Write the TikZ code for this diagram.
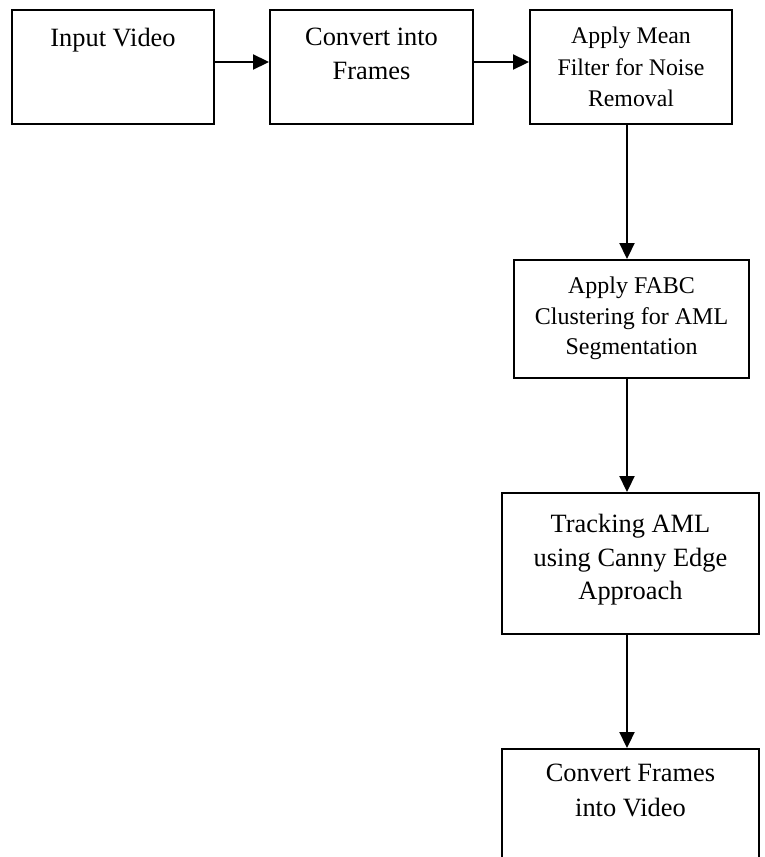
\documentclass[tikz,border=0pt]{standalone}
\usepackage{fontspec}
\setmainfont{Liberation Serif}
\usetikzlibrary{arrows.meta}
\begin{document}
\begin{tikzpicture}[x=0.5pt,y=-0.5pt,
  box/.style={draw, line width=0.95pt, inner sep=0pt, rectangle},
  lab/.style={anchor=north, align=center, inner sep=0pt},
  arr/.style={line width=0.95pt, -{Triangle[length=8pt,width=7.5pt]}},
  fbig/.style={font=\fontsize{13.2}{17}\selectfont},
]
\useasboundingbox (0,0) rectangle (765,857);
\clip (0,0) rectangle (765,857);
% boxes
\node[box, minimum width=101pt, minimum height=57pt] (b1) at (113,67) {};
\node[box, minimum width=101.5pt, minimum height=57pt] (b2) at (371.5,67) {};
\node[box, minimum width=101pt, minimum height=57pt] (b3) at (631,67) {};
\node[box, minimum width=117.5pt, minimum height=59pt] (b4) at (631.5,319) {};
\node[box, minimum width=128.5pt, minimum height=70.5pt] (b5) at (630.5,563.5) {};
\node[box, minimum width=128.5pt, minimum height=54.5pt] (b6) at (630.5,803.5) {};
% texts
\node[lab, fbig] (t1) at (113,28) {Input Video};
\node[lab, fbig] (t2) at (371.5,28) {Convert into\\Frames};
\node[lab, font=\fontsize{11.9}{15.75}\selectfont] (t3) at (631,26.7) {Apply Mean\\Filter for Noise\\Removal};
\node[lab, font=\fontsize{12}{15.25}\selectfont] (t4) at (631.5,276.7) {Apply FABC\\Clustering for AML\\Segmentation};
\node[lab, font=\fontsize{13.2}{16.7}\selectfont] (t5) at (630.5,514) {Tracking AML\\using Canny Edge\\Approach};
\node[lab, font=\fontsize{13.2}{17.5}\selectfont] (t6) at (630.5,764) {Convert Frames\\into Video};
% connectors
\coordinate (ay) at (0,62);
\coordinate (ax) at (627,0);
\draw[arr] (b1.east |- ay) -- (b2.west |- ay);
\draw[arr] (b2.east |- ay) -- (b3.west |- ay);
\draw[arr] (b3.south -| ax) -- (b4.north -| ax);
\draw[arr] (b4.south -| ax) -- (b5.north -| ax);
\draw[arr] (b5.south -| ax) -- (b6.north -| ax);
\end{tikzpicture}
\end{document}
